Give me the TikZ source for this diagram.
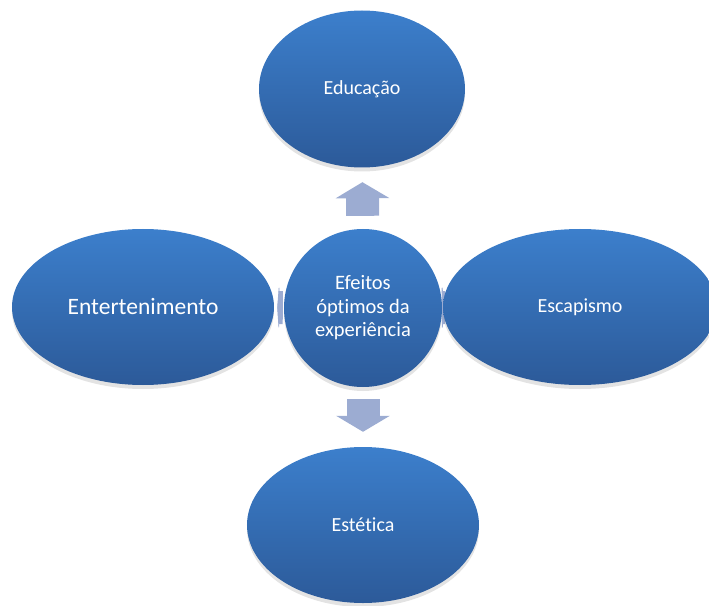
\documentclass[tikz,border=0pt]{standalone}
\usepackage{fontspec}
\setmainfont{Carlito}[Ligatures=NoCommon]
\usetikzlibrary{shapes.geometric, shadows, arrows.meta, backgrounds}
\definecolor{blobtop}{RGB}{60,127,204}
\definecolor{blobbot}{RGB}{44,90,153}
\definecolor{linkfill}{RGB}{156,172,210}

\begin{document}
\begin{tikzpicture}[x=1pt, y=1pt,
	blob/.style={ellipse, inner sep=0pt, top color=blobtop, bottom color=blobbot, text=white,
		font=\fontsize{20}{24}\selectfont,
		drop shadow={opacity=0.22, shadow xshift=0pt, shadow yshift=-4pt}},
	link/.style={line width=33pt, linkfill, -{Triangle[width=53pt, length=16pt]}}]
	\useasboundingbox (-363,-298) rectangle (346,307);
				\node[blob, minimum width=158pt, minimum height=158pt, align=center, font=\fontsize{20.5}{23.5}\selectfont] (c) at (0,-1) {Efeitos\\óptimos da\\experiência};
				\node[blob, minimum width=206pt, minimum height=157pt] (edu) at (-1,218) {Educação};
				\node[blob, minimum width=232pt, minimum height=156pt] (est) at (0,-218) {Estética};
				\node[blob, minimum width=262pt, minimum height=156pt, font=\fontsize{23.5}{27}\selectfont] (ent) at (-220,0) {Entertenimento};
				\node[blob, minimum width=274pt, minimum height=156pt] (esc) at (217,0) {Escapismo};
				\begin{scope}[on background layer]
				\draw[link, shorten <=13pt, shorten >=14.5pt] (c) -- (edu);
				\draw[link, shorten <=12pt, shorten >=15pt] (c) -- (est);
				\draw[link, -{Triangle[width=53pt, length=2pt]}, shorten <=1pt, shorten >=3pt] (c) -- (ent);
				\draw[link, -{Triangle[width=53pt, length=3pt]}, shorten <=-3pt, shorten >=-2pt] (c) -- (esc);
				\end{scope}
			\end{tikzpicture}
\end{document}
